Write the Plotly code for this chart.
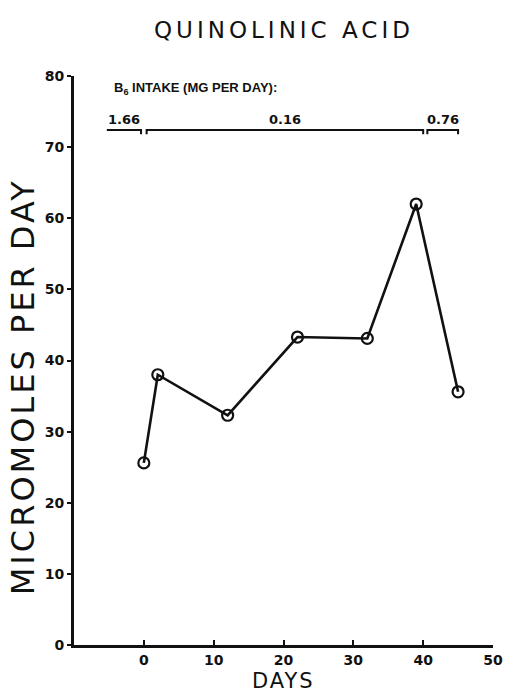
import plotly.graph_objects as go

days = [0, 2, 12, 22, 32, 39, 45]
micromoles = [25.6, 38.0, 32.3, 43.3, 43.1, 62.0, 35.6]

x_ticks = [0, 10, 20, 30, 40, 50]
y_ticks = [0, 10, 20, 30, 40, 50, 60, 70, 80]

intake_labels = ["1.66", "0.16", "0.76"]
intake_start = [-5.3, 0.4, 40.6]
intake_end = [-0.4, 40.0, 45.0]

FONT = "DejaVu Sans"
INK = "#111111"


def spaced(text, px):
    return f'<span style="letter-spacing:{px}px">{text}</span>'


fig = go.Figure()
fig.add_trace(go.Scatter(
    x=days, y=micromoles, mode="lines+markers",
    line=dict(color=INK, width=2.6),
    marker=dict(symbol="circle-open", size=11, color=INK, line=dict(width=2.2, color=INK)),
    showlegend=False, cliponaxis=False,
))

line_y = 72.4
tick_len = 0.6
for lab, s, e in zip(intake_labels, intake_start, intake_end):
    if lab == "1.66":
        path = f"M {s} {line_y} L {e} {line_y} L {e} {line_y - tick_len}"
    else:
        path = (f"M {s} {line_y - tick_len} L {s} {line_y} L {e} {line_y} "
                f"L {e} {line_y - tick_len}")
    fig.add_shape(type="path", path=path, xref="x", yref="y",
                  line=dict(color=INK, width=2))
    fig.add_annotation(x=(s + e) / 2, y=line_y, xref="x", yref="y",
                       text=f"<b>{lab}</b>", showarrow=False, yanchor="bottom", yshift=1,
                       font=dict(family=FONT, size=13, color=INK))

fig.add_annotation(x=-4.6, y=78.2, xref="x", yref="y", xanchor="left",
                   text="<b>B<sub>6</sub> INTAKE (MG PER DAY):</b>",
                   showarrow=False,
                   font=dict(family="Liberation Sans", size=13, color=INK))

fig.add_annotation(x=0.5, y=1.0, xref="paper", yref="paper", yanchor="middle",
                   yshift=46, text=spaced("QUINOLINIC ACID", 4), showarrow=False,
                   font=dict(family=FONT, size=23, color=INK))

fig.add_annotation(x=0, y=0.453, xref="paper", yref="paper", xanchor="right",
                   xshift=-30, textangle=-90,
                   text=spaced("MICROMOLES PER DAY", 3), showarrow=False,
                   font=dict(family=FONT, size=32, color=INK))

fig.add_annotation(x=0.5, y=0, xref="paper", yref="paper", yanchor="bottom",
                   yshift=-49, text=spaced("DAYS", 2), showarrow=False,
                   borderpad=0,
                   font=dict(family=FONT, size=21, color=INK))

fig.update_layout(
    width=515, height=694,
    margin=dict(l=74, r=17, t=76, b=49),
    paper_bgcolor="white", plot_bgcolor="white",
    font=dict(family=FONT, color=INK),
    xaxis=dict(
        range=[-10, 50], tickvals=x_ticks, showgrid=False, zeroline=False,
        showline=True, linecolor=INK, linewidth=3,
        ticks="inside", ticklen=5, tickwidth=2, tickcolor=INK,
        ticklabelstandoff=0,
        tickfont=dict(family=FONT, size=14, color=INK, weight="bold"),
    ),
    yaxis=dict(
        range=[0, 80], tickvals=y_ticks, showgrid=False, zeroline=False,
        showline=True, linecolor=INK, linewidth=3,
        ticks="outside", ticklen=4, tickwidth=2, tickcolor=INK,
        tickfont=dict(family=FONT, size=14, color=INK, weight="bold"),
    ),
)

fig.write_html("out.html")
